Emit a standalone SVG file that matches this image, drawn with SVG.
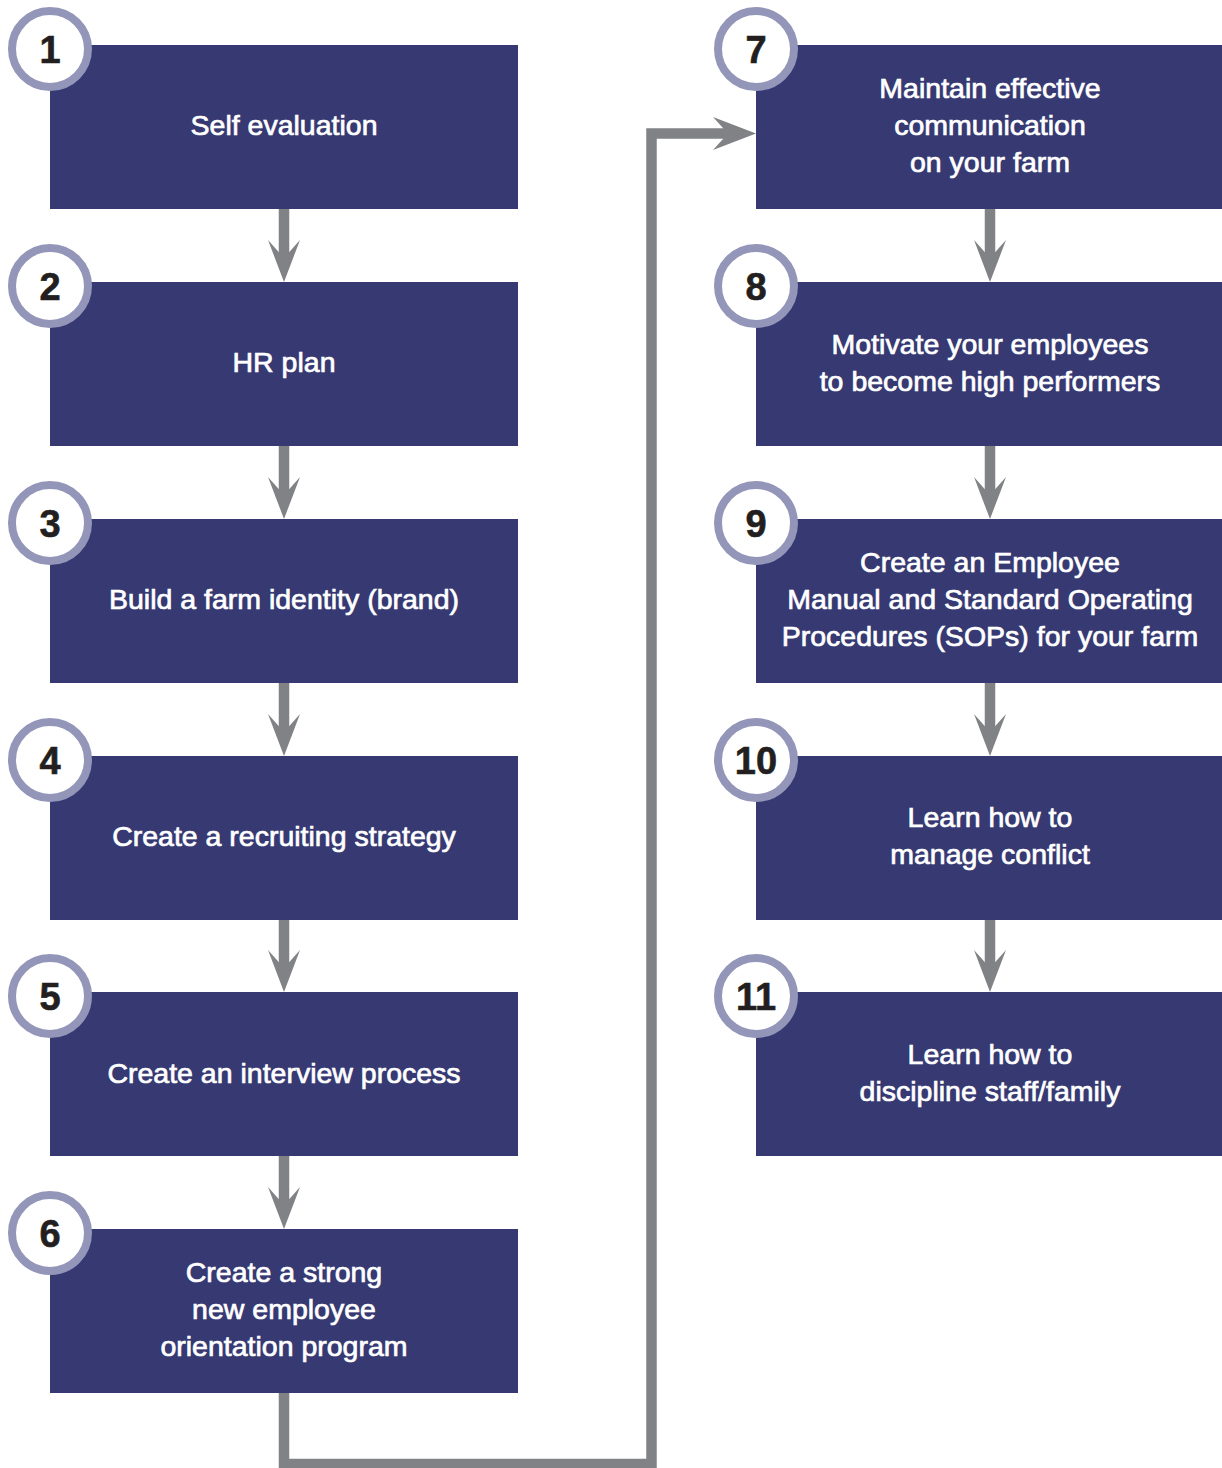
<svg xmlns="http://www.w3.org/2000/svg" width="1222" height="1468" viewBox="0 0 1222 1468">
<defs>
<style>
.box{fill:#373a72}
.ring{fill:#ffffff;stroke:#9395b9;stroke-width:8}
.num{font-family:"Liberation Sans",Arial,sans-serif;font-weight:bold;font-size:38px;fill:#231f20;text-anchor:middle;stroke:#231f20;stroke-width:0.6}
.lbl{font-family:"Liberation Sans",Arial,sans-serif;font-size:28.5px;fill:#ffffff;text-anchor:middle;stroke:#ffffff;stroke-width:0.7}
.shaft{fill:none;stroke:#808285;stroke-width:10.5}
.head{fill:#808285}
</style>
</defs>
<rect width="1222" height="1468" fill="#ffffff"/>
<g id="connectors">
<g id="a1-2"><line class="shaft" x1="284" y1="209" x2="284" y2="262"/><path class="head" d="M284,282 L268,240 L284,258 L300,240 Z"/></g>
<g id="a2-3"><line class="shaft" x1="284" y1="446" x2="284" y2="499"/><path class="head" d="M284,519 L268,477 L284,495 L300,477 Z"/></g>
<g id="a3-4"><line class="shaft" x1="284" y1="683" x2="284" y2="736"/><path class="head" d="M284,756 L268,714 L284,732 L300,714 Z"/></g>
<g id="a4-5"><line class="shaft" x1="284" y1="920" x2="284" y2="972"/><path class="head" d="M284,992 L268,950 L284,968 L300,950 Z"/></g>
<g id="a5-6"><line class="shaft" x1="284" y1="1156" x2="284" y2="1209"/><path class="head" d="M284,1229 L268,1187 L284,1205 L300,1187 Z"/></g>
<g id="a6-7"><path class="shaft" d="M284,1393 V1464 H651.5 V133.5 H730"/><path class="head" d="M756,133.5 L713,117 L728,133.5 L713,150 Z"/></g>
<g id="a7-8"><line class="shaft" x1="990" y1="209" x2="990" y2="262"/><path class="head" d="M990,282 L974,240 L990,258 L1006,240 Z"/></g>
<g id="a8-9"><line class="shaft" x1="990" y1="446" x2="990" y2="499"/><path class="head" d="M990,519 L974,477 L990,495 L1006,477 Z"/></g>
<g id="a9-10"><line class="shaft" x1="990" y1="683" x2="990" y2="736"/><path class="head" d="M990,756 L974,714 L990,732 L1006,714 Z"/></g>
<g id="a10-11"><line class="shaft" x1="990" y1="920" x2="990" y2="972"/><path class="head" d="M990,992 L974,950 L990,968 L1006,950 Z"/></g>
</g>
<g id="node1"><rect class="box" x="50" y="45" width="468" height="164"/><circle class="ring" cx="50" cy="49" r="38"/><text class="num" x="50" y="63">1</text><text class="lbl" x="284" y="135">Self evaluation</text></g>
<g id="node2"><rect class="box" x="50" y="282" width="468" height="164"/><circle class="ring" cx="50" cy="286" r="38"/><text class="num" x="50" y="300">2</text><text class="lbl" x="284" y="372">HR plan</text></g>
<g id="node3"><rect class="box" x="50" y="519" width="468" height="164"/><circle class="ring" cx="50" cy="523" r="38"/><text class="num" x="50" y="537">3</text><text class="lbl" x="284" y="609">Build a farm identity (brand)</text></g>
<g id="node4"><rect class="box" x="50" y="756" width="468" height="164"/><circle class="ring" cx="50" cy="760" r="38"/><text class="num" x="50" y="774">4</text><text class="lbl" x="284" y="846">Create a recruiting strategy</text></g>
<g id="node5"><rect class="box" x="50" y="992" width="468" height="164"/><circle class="ring" cx="50" cy="996" r="38"/><text class="num" x="50" y="1010">5</text><text class="lbl" x="284" y="1083">Create an interview process</text></g>
<g id="node6"><rect class="box" x="50" y="1229" width="468" height="164"/><circle class="ring" cx="50" cy="1233" r="38"/><text class="num" x="50" y="1247">6</text><text class="lbl" x="284" y="1282">Create a strong</text><text class="lbl" x="284" y="1319">new employee</text><text class="lbl" x="284" y="1356">orientation program</text></g>
<g id="node7"><rect class="box" x="756" y="45" width="466" height="164"/><circle class="ring" cx="756" cy="49" r="38"/><text class="num" x="756" y="63">7</text><text class="lbl" x="990" y="98">Maintain effective</text><text class="lbl" x="990" y="135">communication</text><text class="lbl" x="990" y="172">on your farm</text></g>
<g id="node8"><rect class="box" x="756" y="282" width="466" height="164"/><circle class="ring" cx="756" cy="286" r="38"/><text class="num" x="756" y="300">8</text><text class="lbl" x="990" y="354">Motivate your employees</text><text class="lbl" x="990" y="391">to become high performers</text></g>
<g id="node9"><rect class="box" x="756" y="519" width="466" height="164"/><circle class="ring" cx="756" cy="523" r="38"/><text class="num" x="756" y="537">9</text><text class="lbl" x="990" y="572">Create an Employee</text><text class="lbl" x="990" y="609">Manual and Standard Operating</text><text class="lbl" x="990" y="646">Procedures (SOPs) for your farm</text></g>
<g id="node10"><rect class="box" x="756" y="756" width="466" height="164"/><circle class="ring" cx="756" cy="760" r="38"/><text class="num" x="756" y="774">10</text><text class="lbl" x="990" y="827">Learn how to</text><text class="lbl" x="990" y="864">manage conflict</text></g>
<g id="node11"><rect class="box" x="756" y="992" width="466" height="164"/><circle class="ring" cx="756" cy="996" r="38"/><text class="num" x="756" y="1010">11</text><text class="lbl" x="990" y="1064">Learn how to</text><text class="lbl" x="990" y="1101">discipline staff/family</text></g>
</svg>
